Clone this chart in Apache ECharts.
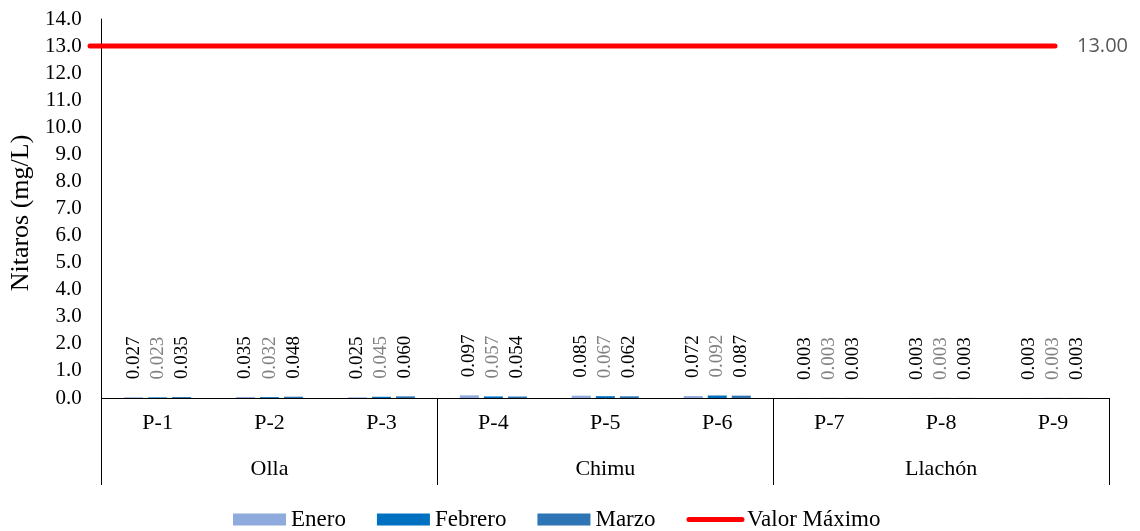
<!DOCTYPE html>
<html>
<head>
<meta charset="utf-8">
<script src="https://cdn.jsdelivr.net/npm/echarts@6/dist/echarts.min.js"></script>
<style>
  html, body { margin: 0; padding: 0; background: #fff; }
  #chart { width: 1140px; height: 531px; }
</style>
</head>
<body>
<div id="chart"></div>
<script>
// Sampling points and their river sections
const puntos = ['P-1', 'P-2', 'P-3', 'P-4', 'P-5', 'P-6', 'P-7', 'P-8', 'P-9'];
const zonas = ['Olla', 'Chimu', 'Llachón'];

// Nitrate concentrations (mg/L) per month
const enero   = [0.027, 0.035, 0.025, 0.097, 0.085, 0.072, 0.003, 0.003, 0.003];
const febrero = [0.023, 0.032, 0.045, 0.057, 0.067, 0.092, 0.003, 0.003, 0.003];
const marzo   = [0.035, 0.048, 0.060, 0.054, 0.062, 0.087, 0.003, 0.003, 0.003];

// Regulatory maximum (mg/L)
const valorMaximo = [13, 13];

const serif = 'Liberation Serif';

function barSeries(name, data, color, labelColor) {
  return {
    name: name,
    type: 'bar',
    xAxisIndex: 0,
    yAxisIndex: 0,
    data: data,
    barGap: '26%',
    barCategoryGap: '40%',
    itemStyle: { color: color },
    label: {
      show: true,
      position: 'top',
      rotate: 90,
      align: 'left',
      verticalAlign: 'middle',
      distance: 18,
      fontFamily: serif,
      fontSize: 19,
      color: labelColor,
      formatter: p => p.value.toFixed(3)
    }
  };
}

const chart = echarts.init(document.getElementById('chart'));
chart.setOption({
  animation: false,
  backgroundColor: '#ffffff',
  textStyle: { fontFamily: serif },
  grid: [
    { left: 101, right: 31, top: 19, bottom: 133 },
    { left: 90, right: 85, top: 19, bottom: 133 }
  ],
  legend: {
    top: 503,
    left: 228,
    itemWidth: 53,
    itemHeight: 12,
    itemGap: 31,
    textStyle: { fontFamily: serif, fontSize: 23, color: '#000' },
    data: [
      { name: 'Enero', icon: 'rect' },
      { name: 'Febrero', icon: 'rect' },
      { name: 'Marzo', icon: 'rect' },
      {
        name: 'Valor Máximo',
        itemStyle: { opacity: 0 },
        lineStyle: { width: 5, cap: 'round', color: '#FF0000' }
      }
    ]
  },
  xAxis: [
    {
      type: 'category',
      gridIndex: 0,
      data: puntos,
      axisLine: { show: true, lineStyle: { color: '#000', width: 1 } },
      axisTick: { show: false },
      axisLabel: { fontFamily: serif, fontSize: 22, color: '#000', margin: 14 }
    },
    {
      type: 'category',
      gridIndex: 0,
      position: 'bottom',
      data: zonas,
      axisLine: { show: false },
      axisTick: { show: true, length: 87, interval: 0, lineStyle: { color: '#000', width: 1 } },
      axisLabel: { fontFamily: serif, fontSize: 22, color: '#000', margin: 60 }
    },
    {
      type: 'category',
      gridIndex: 1,
      data: ['', ''],
      boundaryGap: false,
      show: false
    }
  ],
  yAxis: [
    {
      type: 'value',
      gridIndex: 0,
      min: 0,
      max: 14,
      interval: 1,
      name: 'Nitaros (mg/L)',
      nameLocation: 'middle',
      nameGap: 58,
      nameTextStyle: { fontFamily: serif, fontSize: 26, color: '#000', padding: [0, 9, 0, 0] },
      axisLine: { show: true, lineStyle: { color: '#000', width: 1 } },
      axisTick: { show: false },
      splitLine: { show: false },
      axisLabel: {
        fontFamily: serif, fontSize: 21, color: '#000', margin: 20,
        formatter: v => v.toFixed(1)
      }
    },
    {
      type: 'value',
      gridIndex: 1,
      min: 0,
      max: 14,
      show: false
    }
  ],
  series: [
    barSeries('Enero', enero, '#8FAADC', '#000'),
    barSeries('Febrero', febrero, '#0070C0', '#808080'),
    barSeries('Marzo', marzo, '#2E75B6', '#000'),
    {
      name: 'Valor Máximo',
      type: 'line',
      xAxisIndex: 2,
      yAxisIndex: 1,
      data: valorMaximo,
      symbol: 'none',
      z: 5,
      itemStyle: { color: '#FF0000' },
      lineStyle: { color: '#FF0000', width: 5, cap: 'round' },
      endLabel: {
        show: true,
        distance: 22,
        fontFamily: 'Open Sans',
        fontSize: 20,
        color: '#595959',
        formatter: p => p.value.toFixed(2)
      }
    }
  ]
});
</script>
</body>
</html>
